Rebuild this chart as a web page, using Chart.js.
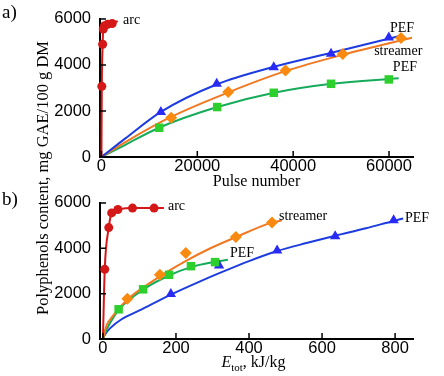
<!DOCTYPE html>
<html>
<head>
<meta charset="utf-8">
<script src="https://cdn.jsdelivr.net/npm/chart.js@4"></script>
<style>
  body { margin: 0; background: #fff; }
  #wrap { position: relative; width: 444px; height: 376px; overflow: hidden; }
  canvas { position: absolute; left: 0; }
  #chart-a { top: 0; }
  #chart-b { top: 184px; }
  .panel { position: absolute; left: 2px; font: 19px "Liberation Serif", serif; line-height: 1; color: #000; }
  #ytitle { position: absolute; left: 43px; top: 178px; transform: translate(-50%, -50%) rotate(-90deg);
            font: 16.5px "Liberation Serif", serif; white-space: nowrap; line-height: 1; color: #000; }
</style>
</head>
<body>
<div id="wrap">
  <canvas id="chart-a" width="444" height="194"></canvas>
  <canvas id="chart-b" width="444" height="192"></canvas>
  <div class="panel" style="top:2px">a)</div>
  <div class="panel" style="top:189px">b)</div>
  <div id="ytitle">Polyphenols content, mg GAE/100 g DM</div>
</div>
<script>
const yTicks = [0, 2000, 4000, 6000];
const pulseTicks = [0, 20000, 40000, 60000];
const energyTicks = [0, 200, 400, 600, 800];

// a) measured points vs pulse number
const aArcX = [80, 250, 380, 650, 1300, 2250];
const aArcY = [3070, 4900, 5560, 5700, 5770, 5800];
const aStreamerX = [14550, 26450, 38400, 50350, 62500];
const aStreamerY = [1710, 2820, 3760, 4480, 5170];
const aPefBlueX = [12400, 24050, 35950, 47900, 59950];
const aPefBlueY = [1960, 3180, 3900, 4490, 5190];
const aPefGreenX = [12050, 24150, 35950, 47900, 59950];
const aPefGreenY = [1270, 2170, 2790, 3180, 3370];

// a) fitted curves
const aArcFitX = [0, 80, 250, 380, 650, 1300, 2250, 3400];
const aArcFitY = [0, 3070, 4900, 5560, 5700, 5770, 5800, 5900];
const aStreamerFitX = [0, 5000, 14500, 26500, 38500, 50500, 64800];
const aStreamerFitY = [0, 650, 1740, 2810, 3740, 4450, 5180];
const aPefBlueFitX = [0, 5000, 12400, 24000, 36000, 48000, 62000];
const aPefBlueFitY = [0, 810, 1960, 3150, 3920, 4530, 5250];
const aPefGreenFitX = [0, 5000, 12000, 24000, 36000, 48000, 62000];
const aPefGreenFitY = [0, 530, 1270, 2160, 2790, 3180, 3420];

// b) measured points vs total energy, kJ/kg
const bArcX = [5, 16, 24, 41, 81, 140];
const bArcY = [3070, 4910, 5560, 5710, 5770, 5770];
const bStreamerX = [67, 156, 227, 364, 463];
const bStreamerY = [1775, 2830, 3790, 4500, 5140];
const bPefGreenX = [43, 110, 181, 241, 307];
const bPefGreenY = [1310, 2190, 2830, 3210, 3390];
const bPefBlueX = [186, 318, 477, 636, 796];
const bPefBlueY = [1980, 3240, 3900, 4530, 5230];

// b) fitted curves
const bArcFitX = [0, 5, 16, 24, 41, 81, 140, 167];
const bArcFitY = [0, 3070, 4910, 5560, 5710, 5770, 5770, 5770];
const bStreamerFitX = [0, 10, 24, 69, 133, 225, 293, 364, 458, 490];
const bStreamerFitY = [0, 600, 950, 1770, 2520, 3420, 3990, 4490, 5110, 5220];
const bPefGreenFitX = [0, 10, 19, 43, 110, 181, 241, 307, 342];
const bPefGreenFitY = [0, 420, 690, 1290, 2180, 2800, 3170, 3400, 3490];
const bPefBlueFitX = [0, 5, 20, 50, 100, 186, 260, 330, 400, 477, 560, 636, 720, 796, 822];
const bPefBlueFitY = [0, 180, 480, 860, 1260, 1960, 2500, 2980, 3435, 3880, 4240, 4550, 4880, 5205, 5310];

// curve labels (anchored in data units)
const aLabels = ['arc', 'PEF', 'streamer', 'PEF'];
const aLabelX = [4500, 60200, 56900, 60800];
const aLabelY = [5925, 5610, 4580, 3890];
const bLabels = ['arc', 'streamer', 'PEF', 'PEF'];
const bLabelX = [178, 482, 348, 827];
const bLabelY = [5830, 5390, 3780, 5320];

const RED = '#d41818';
const BLUE_LINE = '#1c3ce0', BLUE = '#2a2af5';
const ORANGE_LINE = '#f07820', ORANGE = '#f98a0f';
const GREEN_LINE = '#15ab5a', GREEN = '#2ccf2c';

const tickFont = {family: '"Liberation Sans", Arial, sans-serif', size: 16.5};
const serif = '"Liberation Serif", "Times New Roman", serif';

function pts(xs, ys) {
    return xs.map((x, i) => ({x: x, y: ys[i]}));
}

function fit(xs, ys, color) {
    return {
        data: pts(xs, ys), showLine: true, borderColor: color, borderWidth: 2,
        pointRadius: 0, cubicInterpolationMode: 'monotone', order: 1, clip: false
    };
}

function marks(xs, ys, color, style, r) {
    return {
        data: pts(xs, ys), showLine: false, pointStyle: style, pointRadius: r,
        backgroundColor: color, borderColor: color, borderWidth: 0, order: 0, clip: false
    };
}

// ticks point into the plot, plus the text labels next to the curves
const decorations = {
    id: 'decorations',
    afterDraw(chart, args, opts) {
        const {ctx, chartArea: area, scales: {x, y}} = chart;
        ctx.save();
        ctx.strokeStyle = '#000';
        ctx.lineWidth = 1.5;
        ctx.beginPath();
        x.ticks.forEach(t => {
            const px = x.getPixelForValue(t.value);
            ctx.moveTo(px, area.bottom);
            ctx.lineTo(px, area.bottom - 6);
        });
        y.ticks.forEach(t => {
            const py = y.getPixelForValue(t.value);
            ctx.moveTo(area.left, py);
            ctx.lineTo(area.left + 6, py);
        });
        ctx.stroke();

        ctx.fillStyle = '#000';
        ctx.font = '14px ' + serif;
        ctx.textAlign = 'left';
        ctx.textBaseline = 'middle';
        opts.texts.forEach((txt, i) => {
            ctx.fillText(txt, x.getPixelForValue(opts.xs[i]), y.getPixelForValue(opts.ys[i]));
        });

        if (opts.energyTitle) {
            // E_tot, kJ/kg with a subscript
            const cy = opts.energyTitle;
            ctx.font = 'italic 16px ' + serif;
            const wE = ctx.measureText('E').width;
            ctx.font = '11px ' + serif;
            const wSub = ctx.measureText('tot').width;
            ctx.font = '16px ' + serif;
            const wRest = ctx.measureText(', kJ/kg').width;
            let cx = (area.left + area.right) / 2 - 3 - (wE + wSub + wRest) / 2;
            ctx.font = 'italic 16px ' + serif;
            ctx.fillText('E', cx, cy);
            cx += wE;
            ctx.font = '11px ' + serif;
            ctx.fillText('tot', cx, cy + 5);
            cx += wSub;
            ctx.font = '16px ' + serif;
            ctx.fillText(', kJ/kg', cx, cy);
        }
        ctx.restore();
    }
};

function makeChart(id, datasets, xMin, xMax, xTicks, pad, xHeight, xTitle, labelOpts) {
    return new Chart(document.getElementById(id), {
        type: 'scatter',
        data: {datasets: datasets},
        options: {
            responsive: false,
            animation: false,
            devicePixelRatio: 1,
            layout: {padding: pad},
            plugins: {legend: {display: false}, tooltip: {enabled: false}, decorations: labelOpts},
            scales: {
                x: {
                    type: 'linear', min: xMin, max: xMax,
                    afterBuildTicks: s => { s.ticks = xTicks.map(v => ({value: v})); },
                    afterFit: s => { s.height = xHeight; },
                    grid: {display: false, drawTicks: false},
                    border: {display: true, color: '#000', width: 2},
                    ticks: {color: '#000', font: tickFont, padding: 0, maxRotation: 0, callback: v => String(v)},
                    title: xTitle
                },
                y: {
                    type: 'linear', min: 0, max: 6000,
                    afterBuildTicks: s => { s.ticks = yTicks.map(v => ({value: v})); },
                    afterFit: s => { s.width = 100; },
                    grid: {display: false, drawTicks: false},
                    border: {display: true, color: '#000', width: 2},
                    ticks: {color: '#000', font: tickFont, padding: 9, callback: v => String(v)}
                }
            }
        },
        plugins: [decorations]
    });
}

document.addEventListener('DOMContentLoaded', () => {
    makeChart('chart-a', [
        marks(aArcX, aArcY, RED, 'circle', 4.5),
        marks(aPefBlueX, aPefBlueY, BLUE, 'triangle', 6),
        marks(aStreamerX, aStreamerY, ORANGE, 'rectRot', 6),
        marks(aPefGreenX, aPefGreenY, GREEN, 'rect', 6),
        fit(aArcFitX, aArcFitY, RED),
        fit(aPefBlueFitX, aPefBlueFitY, BLUE_LINE),
        fit(aStreamerFitX, aStreamerFitY, ORANGE_LINE),
        fit(aPefGreenFitX, aPefGreenFitY, GREEN_LINE)
    ], -300, 65000, pulseTicks, {left: 0, right: 31, top: 13, bottom: 0}, 37,
    {display: true, text: 'Pulse number', color: '#000', font: {family: serif, size: 16}, padding: {top: 0, bottom: 3}},
    {texts: aLabels, xs: aLabelX, ys: aLabelY});

    makeChart('chart-b', [
        marks(bArcX, bArcY, RED, 'circle', 4.5),
        marks(bStreamerX, bStreamerY, ORANGE, 'rectRot', 6),
        marks(bPefGreenX, bPefGreenY, GREEN, 'rect', 6),
        marks(bPefBlueX, bPefBlueY, BLUE, 'triangle', 6),
        fit(bArcFitX, bArcFitY, RED),
        fit(bStreamerFitX, bStreamerFitY, ORANGE_LINE),
        fit(bPefGreenFitX, bPefGreenFitY, GREEN_LINE),
        fit(bPefBlueFitX, bPefBlueFitY, BLUE_LINE)
    ], -8, 849, energyTicks, {left: 0, right: 31, top: 11, bottom: 0}, 37,
    {display: false},
    {texts: bLabels, xs: bLabelX, ys: bLabelY, energyTitle: 179});
});
</script>
</body>
</html>
